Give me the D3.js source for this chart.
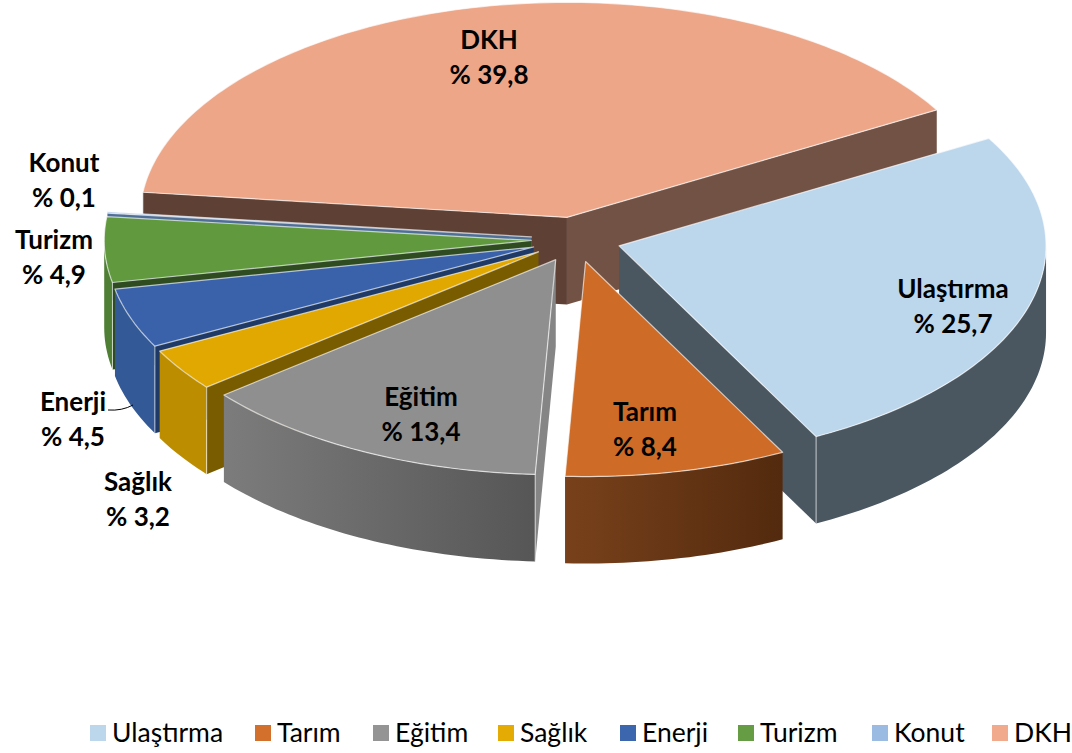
<!DOCTYPE html>
<html>
<head>
<meta charset="utf-8">
<script src="https://cdn.jsdelivr.net/npm/d3@7"></script>
<style>
  body { margin: 0; background: #fff; }
  text { font-family: Lato, "Open Sans", sans-serif; fill: #000; }
</style>
</head>
<body>
<script>
// Chart data
const categories = ["Ulaştırma", "Tarım", "Eğitim", "Sağlık", "Enerji", "Turizm", "Konut", "DKH"];
const shares = [25.7, 8.4, 13.4, 3.2, 4.5, 4.9, 0.1, 39.8];

// Colours per slice
const topColors = ["#bcd6ec", "#cd6b27", "#8f8f8f", "#e0a800", "#3a62ab", "#60993e", "#9ab8e0", "#eda688"];
const legendColors = ["#bcd6ec", "#d2702c", "#949494", "#e5ab05", "#3c66ae", "#659c44", "#9cbbe2", "#f2aa8c"];
const rimStart = ["#4a5761", "#78411b", "#7c7c7c", "#bd8d00", "#335a96", "#4f7f35", "#5c7896", "#8a6150"];
const rimEnd = ["#4a5761", "#532a0e", "#565656", "#bd8d00", "#335a96", "#4f7f35", "#5c7896", "#8a6150"];
const wallColors = ["#4a5761", "#532a0e", "#858585", "#7a5c00", "#1f3a66", "#2f4c20", "#4f6f96", "#5e4035"];
const dkhEndWall = "#725244";

// Layout, hand placed like the original labels
const labelPos = [[953, 289], [645, 412], [421, 397], [138, 482], [73, 402], [54, 240], [64, 163], [489, 40]];
const legendX = [90, 255, 373, 498, 620, 738, 872, 992];
const width = 1072, height = 753;
const cx = 576, cy = 239.5, rx = 427, ry = 215;
const depth = 87;
const explode = 0.105;
const startAngle = 60 * Math.PI / 180;

const svg = d3.select("body").append("svg")
    .attr("width", width)
    .attr("height", height);

// Unit circle -> screen ellipse
const sx = d3.scaleLinear().domain([-1, 1]).range([cx - rx, cx + rx]);
const sy = d3.scaleLinear().domain([-1, 1]).range([cy - ry, cy + ry]);

const pie = d3.pie().sort(null).startAngle(startAngle).endAngle(startAngle + 2 * Math.PI);
const slices = pie(shares).map((d, i) => {
    const mid = (d.startAngle + d.endAngle) / 2;
    return {
        i,
        a0: d.startAngle,
        a1: d.endAngle,
        ox: explode * Math.sin(mid),
        oy: -explode * Math.cos(mid)
    };
});

function point(s, a, r, dz) {
    return [sx(s.ox + r * Math.sin(a)), sy(s.oy - r * Math.cos(a)) + dz];
}

function arcPoints(s, a0, a1, dz) {
    const n = Math.max(2, Math.ceil((a1 - a0) / 0.02));
    return d3.range(n + 1).map(k => point(s, a0 + (a1 - a0) * k / n, 1, dz));
}

const line = d3.line();

// Rim gradients
const defs = svg.append("defs");
slices.forEach(s => {
    const g = defs.append("linearGradient").attr("id", "rim" + s.i);
    g.append("stop").attr("offset", "0%").attr("stop-color", rimStart[s.i]);
    g.append("stop").attr("offset", "100%").attr("stop-color", rimEnd[s.i]);
});

// Paint back to front
const drawOrder = [7, 6, 5, 4, 3, 2, 0, 1];
const edge = "rgba(255,255,255,0.65)";

drawOrder.forEach(i => {
    const s = slices[i];
    const g = svg.append("g");

    // Cut walls, only the ones facing the viewer
    const apex = point(s, 0, 0, 0);
    const apexLow = point(s, 0, 0, depth);
    if (Math.sin(s.a0) < 0) {
        g.append("path")
            .attr("d", line([apex, point(s, s.a0, 1, 0), point(s, s.a0, 1, depth), apexLow]) + "Z")
            .attr("fill", wallColors[i]);
    }
    if (Math.sin(s.a1) > 0) {
        g.append("path")
            .attr("d", line([apex, point(s, s.a1, 1, 0), point(s, s.a1, 1, depth), apexLow]) + "Z")
            .attr("fill", i === 7 ? dkhEndWall : wallColors[i]);
    }

    // Outer rim, front half of the ellipse only
    const turns = [0, 1].map(k => k * 2 * Math.PI);
    turns.forEach(t => {
        const from = Math.max(s.a0, t + Math.PI / 2);
        const to = Math.min(s.a1, t + 3 * Math.PI / 2);
        if (from >= to) return;
        const low = arcPoints(s, from, to, depth).reverse();
        g.append("path")
            .attr("d", line(arcPoints(s, from, to, 0).concat(low)) + "Z")
            .attr("fill", `url(#rim${i})`);
    });

    // Top face
    g.append("path")
        .attr("d", line([apex].concat(arcPoints(s, s.a0, s.a1, 0))) + "Z")
        .attr("fill", topColors[i])
        .attr("stroke", edge)
        .attr("stroke-width", 1.2)
        .attr("stroke-linejoin", "round");

    // Vertical seam on the visible corners
    [s.a0, s.a1].forEach(a => {
        const facing = a === s.a0 ? Math.sin(a) < 0 : Math.sin(a) > 0;
        if (!facing || Math.cos(a) > 0.2) return;
        g.append("path")
            .attr("d", line([point(s, a, 1, 0), point(s, a, 1, depth)]))
            .attr("stroke", edge)
            .attr("stroke-width", 1);
    });
});

// Leader line for Enerji
svg.append("path")
    .attr("d", "M108,410 Q122,411 133,405")
    .attr("fill", "none")
    .attr("stroke", "#000")
    .attr("stroke-width", 1);

// Data labels
const labels = svg.append("g").selectAll("g")
    .data(categories)
    .enter()
    .append("g")
    .attr("transform", (d, i) => `translate(${labelPos[i][0]},${labelPos[i][1]})`)
    .attr("text-anchor", "middle")
    .style("font-size", "26px")
    .style("font-weight", 700);

labels.append("text")
    .attr("dy", "0.35em")
    .text(d => d);

labels.append("text")
    .attr("y", 35)
    .attr("dy", "0.35em")
    .text((d, i) => "% " + String(shares[i]).replace(".", ","));

// Legend
const legend = svg.append("g").selectAll("g")
    .data(categories)
    .enter()
    .append("g")
    .attr("transform", (d, i) => `translate(${legendX[i]},725)`);

legend.append("rect")
    .attr("width", 16)
    .attr("height", 16)
    .attr("fill", (d, i) => legendColors[i]);

legend.append("text")
    .attr("x", 22)
    .attr("y", 8)
    .attr("dy", "0.35em")
    .style("font-size", "26.5px")
    .text(d => d);
</script>
</body>
</html>
